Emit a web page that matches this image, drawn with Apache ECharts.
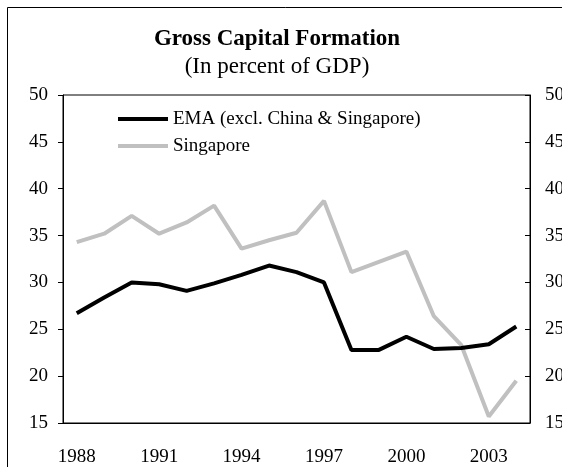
<!DOCTYPE html>
<html>
<head>
<meta charset="utf-8">
<title>Gross Capital Formation</title>
<script src="https://cdn.jsdelivr.net/npm/echarts@6/dist/echarts.min.js"></script>
<style>
  html, body { margin: 0; padding: 0; background: #fff; }
  #chart { width: 562px; height: 467px; }
</style>
</head>
<body>
<div id="chart"></div>
<script>
// data
const years = ['1988','1989','1990','1991','1992','1993','1994','1995','1996',
  '1997','1998','1999','2000','2001','2002','2003','2004'];
const ema = [26.7, 28.4, 30.0, 29.8, 29.1, 29.9, 30.8, 31.8, 31.1,
  30.0, 22.8, 22.8, 24.2, 22.9, 23.0, 23.4, 25.3];
const singapore = [34.3, 35.2, 37.1, 35.2, 36.4, 38.2, 33.6, 34.5, 35.3,
  38.7, 31.1, 32.2, 33.3, 26.4, 23.3, 15.7, 19.5];
const yMin = 15, yMax = 50, yStep = 5;

const font = 'Liberation Serif, Times New Roman, serif';
let myChart = echarts.init(document.getElementById('chart'));

// y axis shared settings (left and right are the same scale)
function yAxis(pos, inside, margin) {
  return {
    type: 'value',
    position: pos,
    min: yMin,
    max: yMax,
    interval: yStep,
    splitLine: { show: false },
    axisLine: { show: true, lineStyle: { color: '#000', width: 1 } },
    axisTick: { show: true, inside: inside, length: 5, lineStyle: { color: '#000' } },
    axisLabel: { color: '#000', fontFamily: font, fontSize: 19, margin: margin }
  };
}

myChart.setOption({
  animation: false,
  backgroundColor: '#fff',
  title: [
    {
      text: 'Gross Capital Formation',
      left: 272, top: 23, textAlign: 'center',
      textStyle: { fontFamily: font, fontSize: 23, fontWeight: 'bold', color: '#000' }
    },
    {
      text: '(In percent of GDP)',
      left: 272, top: 50, textAlign: 'center',
      textStyle: { fontFamily: font, fontSize: 23, fontWeight: 'normal', color: '#000' }
    }
  ],
  // outer frame, clipped by the window on the right and bottom
  graphic: [{
    type: 'rect',
    shape: { x: 7.5, y: 7.5, width: 700, height: 600 },
    style: { fill: 'none', stroke: '#000', lineWidth: 1 },
    silent: true
  }],
  legend: {
    orient: 'vertical',
    left: 113,
    top: 104,
    icon: 'rect',
    itemWidth: 50,
    itemHeight: 4,
    itemGap: 7,
    textStyle: { fontFamily: font, fontSize: 19, color: '#000', lineHeight: 20 },
    data: ['EMA (excl. China & Singapore)', 'Singapore']
  },
  grid: {
    left: 63, right: 32, top: 95, bottom: 44,
    outerBoundsMode: 'none', // right labels run off the edge like the original
    show: true, borderColor: '#000', borderWidth: 1
  },
  xAxis: {
    type: 'category',
    data: years,
    boundaryGap: true,
    axisLine: { lineStyle: { color: '#000', width: 1 } },
    axisTick: { interval: 0, length: 6, lineStyle: { color: '#000' } },
    axisLabel: { interval: 2, color: '#000', fontFamily: font, fontSize: 19, margin: 25 }
  },
  yAxis: [yAxis('left', false, 15), yAxis('right', true, 15)],
  series: [
    {
      name: 'EMA (excl. China & Singapore)',
      type: 'line',
      data: ema,
      symbol: 'none',
      itemStyle: { color: '#000' },
      lineStyle: { color: '#000', width: 4 },
      z: 3
    },
    {
      name: 'Singapore',
      type: 'line',
      data: singapore,
      symbol: 'none',
      itemStyle: { color: '#c0c0c0' },
      lineStyle: { color: '#c0c0c0', width: 4 },
      z: 2
    }
  ]
});
</script>
</body>
</html>
